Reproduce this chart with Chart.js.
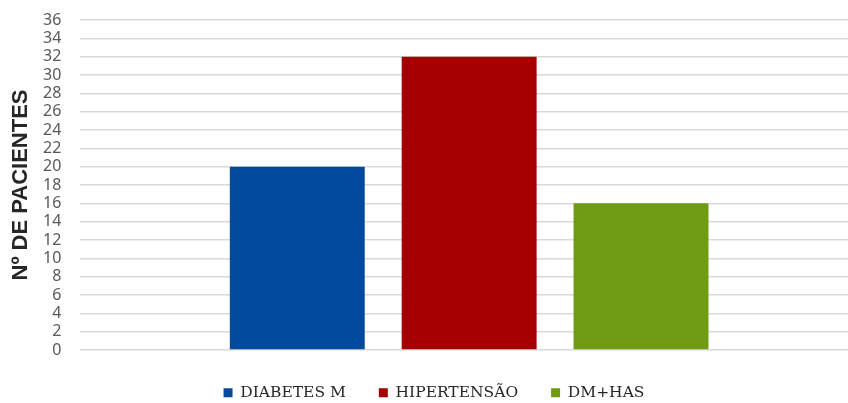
<!DOCTYPE html>
<html>
<head>
<meta charset="utf-8">
<script src="https://cdn.jsdelivr.net/npm/chart.js@4"></script>
<style>
  html, body { margin: 0; padding: 0; background: #ffffff; overflow: hidden; }
  #wrap { width: 848px; height: 403px; position: relative; overflow: hidden; }
</style>
</head>
<body>
<div id="wrap"><canvas id="c" width="858" height="403"></canvas></div>
<script>
// Patient counts per diagnosis group
const groups = ['DIABETES M', 'HIPERTENSÃO', 'DM+HAS'];
const patients = [20, 32, 16];
const groupColors = ['#044a9c', '#a50000', '#6f9b12'];
const yTicks = [0, 2, 4, 6, 8, 10, 12, 14, 16, 18, 20, 22, 24, 26, 28, 30, 32, 34, 36];

const datasets = groups.map((name, i) => ({
  label: name,
  data: [patients[i]],
  backgroundColor: groupColors[i],
  borderWidth: 0,
  barPercentage: 0.785,
  categoryPercentage: 0.663
}));

new Chart(document.getElementById('c'), {
  type: 'bar',
  data: { labels: [''], datasets },
  options: {
    responsive: false,
    animation: false,
    layout: { padding: { top: 20, right: 0, bottom: 0, left: 10 } },
    plugins: {
      legend: {
        position: 'bottom',
        maxHeight: 51,
        labels: {
          font: { family: 'DejaVu Serif', size: 15.5 },
          color: '#262626',
          boxWidth: 9,
          boxHeight: 9,
          padding: 33
        }
      },
      tooltip: { enabled: false }
    },
    scales: {
      x: {
        grid: { display: false },
        border: { display: false },
        ticks: { display: false },
        afterFit: (axis) => { axis.height = 2; }
      },
      y: {
        min: 0,
        max: 36,
        afterBuildTicks: (axis) => { axis.ticks = yTicks.map(v => ({ value: v })); },
        afterFit: (axis) => { axis.paddingTop = 0; axis.paddingBottom = 0; },
        grid: { color: '#d9d9d9', lineWidth: 1.5, drawTicks: false },
        border: { display: false },
        ticks: {
          autoSkip: false,
          font: { family: 'Noto Sans', size: 16, lineHeight: 1 },
          color: '#595959',
          padding: 19
        },
        title: {
          display: true,
          text: 'Nº DE PACIENTES',
          font: { family: 'Liberation Sans', size: 22, weight: 'bold', lineHeight: 1 },
          color: '#262626',
          padding: { top: 0, bottom: -8 }
        }
      }
    }
  }
});
</script>
</body>
</html>
